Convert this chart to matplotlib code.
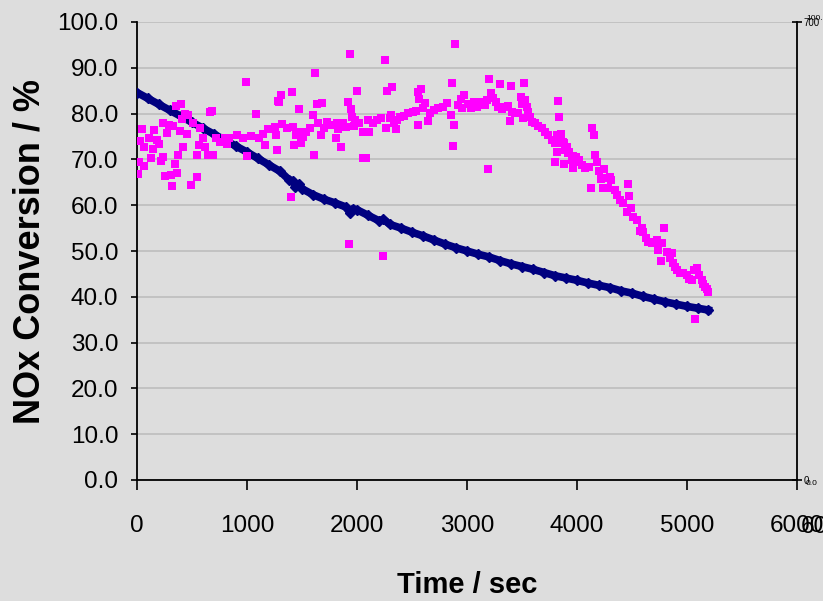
import numpy as np
import matplotlib
matplotlib.use('Agg')
import matplotlib.pyplot as plt
from matplotlib.ticker import FormatStrFormatter

# NOx conversion vs time, two runs
time_a = [0, 100, 200, 300, 400, 500, 600, 700, 800, 900, 1000, 1100, 1200, 1300, 1380, 1420, 1440,
          1470, 1500, 1600, 1700, 1800, 1900, 1940, 1960, 2000, 2100, 2200, 2240, 2300, 2400, 2500,
          2600, 2700, 2800, 2900, 3000, 3100, 3200, 3300, 3400, 3500, 3600, 3700, 3800, 3900, 4000,
          4100, 4200, 4300, 4400, 4500, 4600, 4700, 4800, 4900, 5000, 5100, 5194]
conv_a = [84.6, 83.3, 82.0, 80.7, 79.4, 78.1, 76.8, 75.5, 74.2, 72.9, 71.6, 70.2, 68.8, 67.4, 65.6, 65.3, 63.9,
          64.6, 63.6, 62.3, 61.3, 60.5, 59.6, 58.3, 59.2, 59.0, 57.8, 56.6, 56.9, 55.8, 55.0, 54.1,
          53.3, 52.4, 51.5, 50.7, 50.0, 49.3, 48.7, 47.9, 47.2, 46.6, 46.0, 45.3, 44.6, 44.1, 43.6,
          43.0, 42.5, 42.0, 41.3, 40.8, 40.1, 39.5, 38.9, 38.4, 37.9, 37.5, 37.1]

time_b = [12, 21, 27, 45, 64, 66, 109, 127, 143, 155, 179, 200, 215, 233, 239, 252, 270, 294, 309, 318,
          330, 342, 355, 361, 376, 391, 400, 412, 421, 436, 452, 467, 490, 506, 543, 548, 566, 573, 597,
          621, 648, 664, 679, 688, 718, 755, 800, 815, 839, 906, 967, 988, 997, 1033, 1082, 1112, 1142,
          1164, 1194, 1258, 1261, 1270, 1285, 1291, 1309, 1321, 1361, 1400, 1412, 1421, 1425, 1442, 1473,
          1482, 1490, 1512, 1533, 1573, 1597, 1609, 1621, 1633, 1648, 1670, 1685, 1703, 1724, 1770, 1809,
          1815, 1830, 1845, 1855, 1876, 1897, 1915, 1927, 1939, 1945, 1958, 1973, 1982, 1997, 2021, 2052,
          2058, 2079, 2103, 2112, 2148, 2179, 2218, 2239, 2255, 2261, 2276, 2300, 2309, 2321, 2336, 2355,
          2361, 2391, 2427, 2467, 2506, 2536, 2552, 2558, 2567, 2582, 2603, 2618, 2642, 2664, 2700, 2739,
          2785, 2821, 2852, 2861, 2873, 2885, 2894, 2915, 2945, 2952, 2976, 3006, 3036, 3064, 3088, 3124,
          3164, 3179, 3188, 3200, 3215, 3239, 3261, 3279, 3297, 3315, 3345, 3376, 3391, 3400, 3406, 3436,
          3467, 3488, 3500, 3506, 3518, 3527, 3542, 3558, 3573, 3588, 3618, 3648, 3679, 3709, 3739, 3770,
          3800, 3803, 3815, 3818, 3827, 3836, 3852, 3855, 3870, 3879, 3885, 3894, 3906, 3915, 3930, 3952,
          3961, 3967, 3976, 3991, 4012, 4021, 4042, 4073, 4112, 4127, 4139, 4155, 4164, 4185, 4203, 4218,
          4239, 4245, 4264, 4285, 4300, 4306, 4345, 4367, 4391, 4421, 4458, 4467, 4476, 4488, 4512, 4548,
          4573, 4588, 4603, 4627, 4648, 4679, 4709, 4724, 4739, 4748, 4761, 4770, 4794, 4815, 4845, 4861,
          4870, 4891, 4906, 4936, 4967, 4997, 5021, 5042, 5064, 5076, 5094, 5112, 5133, 5148, 5164, 5179,
          5194]
conv_b = [66.8, 69.4, 74.0, 76.6, 72.6, 68.6, 74.6, 70.2, 72.3, 76.4, 74.2, 73.3, 69.7, 70.6, 77.9, 66.4, 75.7, 77.5, 66.7, 64.2,
          77.4, 69.0, 81.7, 67.0, 71.0, 76.2, 82.2, 78.8, 72.8, 80.0, 75.5, 79.8, 64.4, 77.9, 66.2, 71.0, 73.1, 76.8, 74.7,
          72.6, 71.0, 80.3, 80.6, 71.0, 74.6, 73.9, 74.7, 73.4, 74.6, 75.3, 74.7, 86.8, 70.8, 75.2, 80.0, 74.6, 75.5,
          73.1, 76.6, 77.0, 75.3, 72.1, 82.8, 82.6, 84.0, 77.7, 76.8, 61.7, 84.8, 77.1, 73.1, 75.3, 80.9,
          76.0, 73.5, 75.0, 76.0, 76.8, 79.8, 71.0, 88.8, 82.1, 77.9, 75.3, 82.4, 76.8, 78.2, 77.5, 74.6,
          77.9, 76.6, 77.5, 72.8, 77.9, 77.1, 82.5, 51.5, 93.0, 81.0, 79.3, 77.3, 78.6, 84.9, 78.0, 75.9,
          70.2, 70.2, 78.6, 76.0, 78.0, 78.6, 79.0, 48.8, 91.6, 76.8, 85.0, 79.0, 79.8, 85.9, 77.9, 76.6,
          78.6, 79.2, 79.5, 80.1, 80.4, 80.6, 84.8, 77.5, 83.2, 85.3, 81.2, 82.4, 78.4, 80.1, 80.8, 81.2,
          81.5, 82.4, 79.7, 86.7, 72.9, 77.5, 95.3, 81.9, 83.1, 81.2, 84.1, 82.2, 81.2, 82.6, 81.5, 82.6,
          81.9, 83.0, 67.9, 87.5, 84.6, 83.3, 82.6, 81.5, 86.5, 80.9, 81.5, 81.7, 78.4, 86.0, 80.4, 80.1,
          80.1, 83.6, 82.2, 79.1, 86.7, 83.0, 81.5, 80.4, 79.3, 78.2, 77.9, 77.4, 76.8, 76.0, 75.3, 74.2,
          73.5, 69.4, 75.3, 71.6, 82.7, 79.3, 73.6, 75.5, 73.7, 73.5, 69.1, 72.1, 72.8, 71.3, 71.7, 69.9,
          70.7, 68.1, 69.9, 70.5, 69.5, 69.9, 68.8, 68.1, 68.3, 63.7, 76.8, 75.3, 71.0, 69.5, 67.5, 65.7,
          63.7, 67.8, 65.9, 63.7, 66.2, 65.5, 63.3, 62.2, 61.1, 60.4, 58.6, 64.6, 62.0, 59.3, 57.4, 56.8,
          54.4, 55.0, 54.2, 52.8, 52.0, 51.7, 52.0, 52.4, 50.2, 51.7, 47.8, 51.7, 55.0, 49.8, 48.4, 49.5,
          47.4, 46.6, 45.9, 45.3, 45.1, 44.8, 43.8, 43.7, 45.9, 35.1, 46.2, 44.8, 43.7, 42.9, 42.2, 41.6,
          41.0]

x_ticks = [0, 1000, 2000, 3000, 4000, 5000, 6000]
y_ticks = [0, 10, 20, 30, 40, 50, 60, 70, 80, 90, 100]

bg = '#dddddd'
font = 'Liberation Sans'

fig = plt.figure(figsize=(8.23, 6.01), dpi=100, facecolor=bg)
ax = fig.add_axes([137/823, 1 - 480/601, 660/823, 458/601], facecolor=bg)

ax.plot(time_a, conv_a, '-', color='#000080', lw=5.5, solid_joinstyle='round', zorder=3)
ax.plot(time_a, conv_a, 'D', color='#000080', ms=5.5, zorder=3)
ax.plot(time_b, conv_b, 's', color='#ff00ff', ms=5.2, mew=0, zorder=4)

ax.set_xlim(0, 6000)
ax.set_ylim(0, 100)
ax.set_xticks(x_ticks)
ax.set_yticks(y_ticks)
ax.yaxis.set_major_formatter(FormatStrFormatter('%.1f'))
ax.grid(axis='y', color='#c0c0c0', lw=1.3)
ax.set_axisbelow(True)

for s in ['top', 'right']:
    ax.spines[s].set_visible(False)
ax.spines['left'].set_linewidth(1.3)
ax.spines['bottom'].set_linewidth(1.3)

ax.tick_params(axis='y', direction='out', length=4.5, width=1.2, pad=9)
ax.tick_params(axis='x', direction='out', length=7, width=1.2, pad=18)
for lab in ax.get_xticklabels() + ax.get_yticklabels():
    lab.set_family(font)
    lab.set_fontsize(17.5)

ax.set_ylabel('NOx Conversion / %', fontsize=26, fontweight='bold', family=font, va='center')
ax.yaxis.set_label_coords(-0.162, 0.5)
ax.set_xlabel('Time / sec', fontsize=21, fontweight='bold', family=font, va='center')
ax.xaxis.set_label_coords(0.5, -0.229)

# secondary axes left over on the right hand side
ax2 = ax.twinx()
ax2.set_ylim(0, 100)
ax2.set_yticks([0, 100])
ax2.set_yticklabels(['0.0', '100.0'])
for s in ['top', 'left', 'bottom']:
    ax2.spines[s].set_visible(False)
ax2.spines['right'].set_linewidth(1.3)
ax2.tick_params(axis='y', direction='inout', length=7, width=1.2, pad=3, labelsize=6)
for lab in ax2.get_yticklabels():
    lab.set_family(font)
ax2.get_yticklabels()[0].set_va('top')
ax2.get_yticklabels()[1].set_va('bottom')

ax3 = ax.twinx()
ax3.set_ylim(0, 700)
ax3.set_yticks([0, 700])
ax3.set_yticklabels(['0', '700'])
for s in ax3.spines.values():
    s.set_visible(False)
ax3.tick_params(axis='y', length=0, pad=5, labelsize=7)
for lab in ax3.get_yticklabels():
    lab.set_family(font)

fig.text(801/823, 1 - 527/601, '6000', fontsize=17.5, family=font, va='center', ha='left')

plt.savefig('out.png', dpi=100, facecolor=bg)
